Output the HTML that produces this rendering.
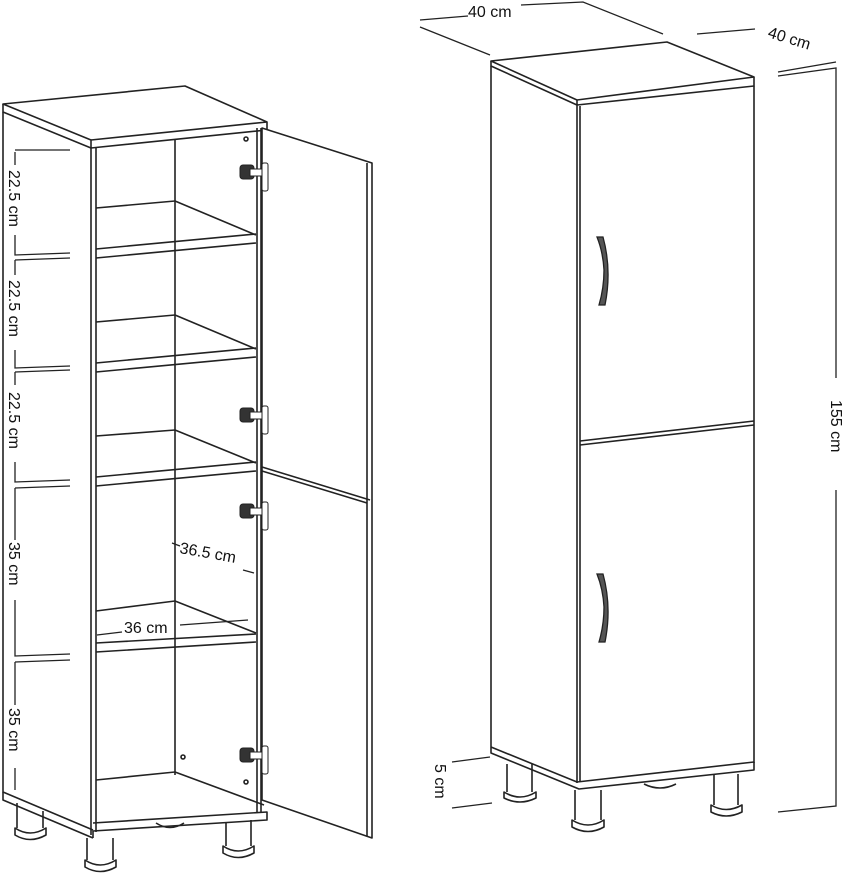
<!DOCTYPE html>
<html><head><meta charset="utf-8"><style>
html,body{margin:0;padding:0;background:#fff;}
svg{display:block;}
text{font-family:"Liberation Sans",sans-serif;font-size:16px;fill:#111;}
</style></head><body>
<svg width="846" height="879" viewBox="0 0 846 879" xmlns="http://www.w3.org/2000/svg">
<g fill="none" stroke="#222" stroke-width="1.6" stroke-linejoin="round">
<path d="M3,104 L185,86 L267,122 L267,130 L91,148 L91,140 L3,104 Z" fill="#fff"/>
<path d="M3,104 L3,112 L91,148"/>
<path d="M91,140 L267,122"/>
<path d="M3,112 L3,792 L93,830"/>
<path d="M91,148 L91,835 M96,147 L96,832"/>
<path d="M175,140 L175,775"/>
<path d="M257,128 L257,812 M261,128 L261,812"/>
<path d="M96,208 L175,201 L256,235 M96,249 L256,234 M96,258 L256,243"/>
<path d="M96,322 L175,315 L256,349 M96,363 L256,348 M96,372 L256,357"/>
<path d="M96,436 L175,430 L256,463 M96,477 L256,462 M96,486 L256,471"/>
<path d="M96,611 L175,601 L256,633 M96,643 L256,634 M96,652 L256,642"/>
<path d="M96,780 L175,772 L264,805"/>
<path d="M3,792 L3,800 L93,838 M93,823 L267,812 L267,820 L93,831 L93,838"/>
<path d="M262,128 L372,163 L372,838 L262,800 Z" fill="#fff"/>
<path d="M367,163 L367,836"/>
<path d="M262,467 L370,500 M262,471 L367,503"/>
<path d="M17,803 L17,828 M43,811 L43,828 M15,828 Q30,838 46,828 L46,835 Q30,844 15,835 Z"/>
<path d="M87,838 L87,860 M113,838 L113,860 M85,860 Q100,870 116,860 L116,867 Q100,876 85,867 Z"/>
<path d="M226,822 L226,846 M251,820 L251,846 M223,846 Q238,856 254,846 L254,853 Q238,862 223,853 Z"/>
<path d="M156,823 Q170,832 184,823"/>
<circle cx="246" cy="139" r="2"/><circle cx="183" cy="757" r="2"/><circle cx="246" cy="782" r="2"/>
</g>
<g fill="#333" stroke="#222">
<rect x="240" y="165" width="14" height="14" rx="3"/><rect x="262" y="163" width="6" height="28" rx="2" fill="#fff"/><rect x="250" y="169" width="12" height="7" fill="#fff"/>
<rect x="240" y="408" width="14" height="14" rx="3"/><rect x="262" y="406" width="6" height="28" rx="2" fill="#fff"/><rect x="250" y="412" width="12" height="7" fill="#fff"/>
<rect x="240" y="504" width="14" height="14" rx="3"/><rect x="262" y="502" width="6" height="28" rx="2" fill="#fff"/><rect x="250" y="508" width="12" height="7" fill="#fff"/>
<rect x="240" y="748" width="14" height="14" rx="3"/><rect x="262" y="746" width="6" height="28" rx="2" fill="#fff"/><rect x="250" y="752" width="12" height="7" fill="#fff"/>
</g>
<g fill="none" stroke="#222" stroke-width="1.3">
<path d="M15,152 L15,165 M15,150 L70,150 M15,235 L15,255 L70,253 M15,260 L70,258 M15,260 L15,275 M15,350 L15,368 L70,366 M15,372 L70,370 M15,372 L15,385 M15,462 L15,482 L70,480 M15,488 L70,486 M15,488 L15,540 M15,600 L15,656 L70,654 M15,662 L70,660 M15,662 L15,705 M15,768 L15,790"/>
<path d="M172,543 L180,546 M243,570 L254,573 M97,635 L122,632 M180,625 L248,620"/>
</g>
<text transform="translate(9,170) rotate(90)">22.5 cm</text>
<text transform="translate(9,280) rotate(90)">22.5 cm</text>
<text transform="translate(9,392) rotate(90)">22.5 cm</text>
<text transform="translate(9,542) rotate(90)">35 cm</text>
<text transform="translate(9,708) rotate(90)">35 cm</text>
<text transform="translate(179,553) rotate(10)">36.5 cm</text>
<text x="124" y="633">36 cm</text>

<g fill="none" stroke="#222" stroke-width="1.6" stroke-linejoin="round">
<path d="M491,61 L667,42 L754,77 L577,100 Z" fill="#fff"/>
<path d="M491,61 L491,66 L577,105 L754,86 L754,77 M577,100 L577,105"/>
<path d="M491,66 L491,747"/>
<path d="M577,105 L577,783 M580,106 L580,782"/>
<path d="M754,86 L754,763"/>
<path d="M580,441 L754,421 M580,445 L754,425"/>
<path d="M491,747 L577,782 L754,762 M491,747 L491,753 L579,789 L754,770 L754,762"/>
<path d="M644,784 Q660,792 676,784"/>
<path d="M507,764 L507,792 M532,764 L532,792 M504,792 Q520,802 536,792 L536,798 Q520,806 504,798 Z"/>
<path d="M575,790 L575,820 M601,790 L601,820 M572,820 Q588,830 604,820 L604,827 Q588,836 572,827 Z"/>
<path d="M714,774 L714,805 M738,774 L738,805 M711,805 Q726,814 742,805 L742,812 Q726,820 711,812 Z"/>
</g>
<g fill="#555" stroke="#222" stroke-width="1.3">
<path d="M597,237 L603,237 Q612,270 605,305 L599,305 Q604,288 604,270 Q603,252 597,237 Z"/>
<path d="M597,574 L603,574 Q612,607 605,642 L599,642 Q604,625 604,607 Q603,589 597,574 Z"/>
</g>
<g fill="none" stroke="#222" stroke-width="1.3">
<path d="M420,20 L468,16 M521,5 L583,2 L663,34 M420,27 L490,55"/>
<path d="M697,34 L755,29"/>
<path d="M778,72 L836,62 M778,76 L836,68 L836,378 M836,490 L836,806 L778,812"/>
<path d="M452,762 L490,757 M452,808 L492,803"/>
</g>
<text x="468" y="17">40 cm</text>
<text transform="translate(767,37) rotate(17)">40 cm</text>
<text transform="translate(831,400) rotate(90)">155 cm</text>
<text transform="translate(435,764) rotate(90)">5 cm</text>
</svg>
</body></html>
